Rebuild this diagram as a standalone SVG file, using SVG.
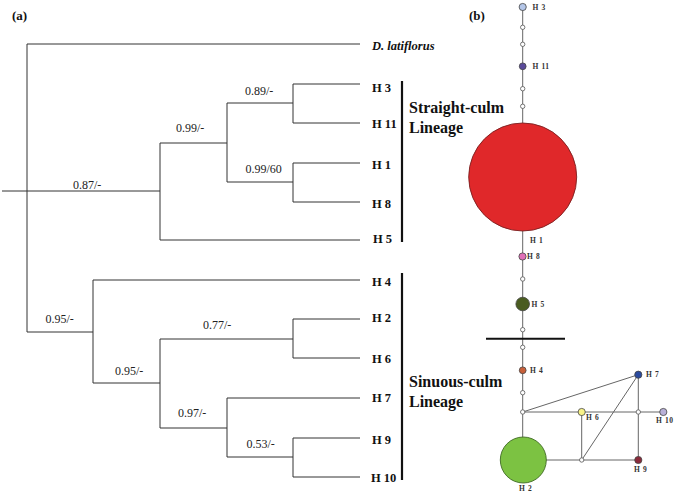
<svg xmlns="http://www.w3.org/2000/svg" width="675" height="494" viewBox="0 0 675 494">
<style>
.tl{fill:none;stroke:#333;stroke-width:1}
.bar{stroke:#111;stroke-width:2.2}
.nl{fill:none;stroke:#666;stroke-width:1}
.sup{font-family:"Liberation Serif",serif;font-size:12px;fill:#222}
.tax{font-family:"Liberation Serif",serif;font-size:12.5px;font-weight:bold;fill:#111}
.lin{font-family:"Liberation Serif",serif;font-size:16px;font-weight:bold;fill:#111}
.pan{font-family:"Liberation Serif",serif;font-size:13px;font-weight:bold;fill:#111}
.hl{font-family:"Liberation Serif",serif;font-size:7.5px;font-weight:bold;fill:#333;letter-spacing:0.6px}
.w{fill:#fff;stroke:#555;stroke-width:0.8}
.c{stroke:#444;stroke-width:0.8}
</style>
<rect width="675" height="494" fill="#fff"/>
<text class="pan" x="12" y="20">(a)</text>
<text class="pan" x="469" y="20">(b)</text>
<g id="tree-connectors">
<path class="tl" d="M2,191H27M27,44V332M27,44H360M27,191H160M160,143V240M160,240H360M160,143H227M227,103V182M227,103H293M293,84V123M293,84H360M293,123H360M227,182H293M293,163V202M293,163H360M293,202H360M27,332H93M93,280V383M93,280H360M93,383H160M160,339V428M160,339H293M293,319V358M293,319H360M293,358H360M160,428H227M227,398V457M227,398H360M227,457H293M293,438V477M293,438H360M293,477H360"/>
<text class="sup" x="245" y="95">0.89/-</text>
<text class="sup" x="176" y="132">0.99/-</text>
<text class="sup" x="245.5" y="173">0.99/60</text>
<text class="sup" x="73" y="189">0.87/-</text>
<text class="sup" x="45.5" y="323">0.95/-</text>
<text class="sup" x="203" y="329">0.77/-</text>
<text class="sup" x="115" y="375">0.95/-</text>
<text class="sup" x="178" y="417">0.97/-</text>
<text class="sup" x="246.5" y="448">0.53/-</text>
</g>
<g id="taxon-dlat"><text class="tax" x="372" y="50" font-style="italic">D. latiflorus</text></g>
<g id="taxon-h3"><text class="tax" x="372" y="91.5">H 3</text></g>
<g id="taxon-h11"><text class="tax" x="372" y="128">H 11</text></g>
<g id="taxon-h1"><text class="tax" x="372" y="169">H 1</text></g>
<g id="taxon-h8"><text class="tax" x="372" y="208">H 8</text></g>
<g id="taxon-h5"><text class="tax" x="373" y="243">H 5</text></g>
<g id="taxon-h4"><text class="tax" x="372" y="286">H 4</text></g>
<g id="taxon-h2"><text class="tax" x="372" y="322">H 2</text></g>
<g id="taxon-h6"><text class="tax" x="372" y="363">H 6</text></g>
<g id="taxon-h7"><text class="tax" x="372" y="402">H 7</text></g>
<g id="taxon-h9"><text class="tax" x="372" y="444">H 9</text></g>
<g id="taxon-h10"><text class="tax" x="371" y="482">H 10</text></g>
<g id="lineage-straight">
<line class="bar" x1="402" y1="81" x2="402" y2="242"/>
<text class="lin" x="409" y="113">Straight-culm</text>
<text class="lin" x="409" y="133">Lineage</text>
</g>
<g id="lineage-sinuous">
<line class="bar" x1="402" y1="273" x2="402" y2="480"/>
<text class="lin" x="409" y="387">Sinuous-culm</text>
<text class="lin" x="409" y="407">Lineage</text>
</g>
<g id="network-connectors">
<path class="nl" d="M522.7,7V460M522.7,412L638.3,374.7M522.7,412H663.3M581.7,412V460M581.7,460L638.3,374.7M638.3,374.7V460M522.7,460H638.3"/>
<line x1="486" y1="338.7" x2="565" y2="338.7" stroke="#111" stroke-width="2"/>
<g id="median-vectors">
<circle class="w" cx="522.7" cy="27.3" r="2.2"/>
<circle class="w" cx="522.7" cy="44.3" r="2.2"/>
<circle class="w" cx="522.7" cy="88.7" r="2.2"/>
<circle class="w" cx="522.7" cy="106.3" r="2.2"/>
<circle class="w" cx="522.7" cy="279" r="2.2"/>
<circle class="w" cx="522.7" cy="329.7" r="2.2"/>
<circle class="w" cx="522.7" cy="347.3" r="2.2"/>
<circle class="w" cx="522.7" cy="392.7" r="2.2"/>
<circle class="w" cx="522.7" cy="412" r="2.2"/>
<circle class="w" cx="638.3" cy="412" r="2.2"/>
<circle class="w" cx="581.7" cy="460" r="2.2"/>
</g>
</g>
<g id="hap-h3"><circle class="c" cx="522.7" cy="7" r="3.6" fill="#b4c6e8"/><text class="hl" x="532.5" y="9.5">H 3</text></g>
<g id="hap-h11"><circle class="c" cx="522.7" cy="66.3" r="3.4" fill="#5a4a9a"/><text class="hl" x="532.5" y="69">H 11</text></g>
<g id="hap-h1"><circle cx="522.7" cy="177" r="54" fill="#e0282a" stroke="#7a2020" stroke-width="0.9"/><text class="hl" x="530" y="242.5">H 1</text></g>
<g id="hap-h8"><circle class="c" cx="522.5" cy="256.5" r="3.6" fill="#e070b8"/><text class="hl" x="527" y="259">H 8</text></g>
<g id="hap-h5"><circle class="c" cx="522.7" cy="304" r="6.8" fill="#4a5c20"/><text class="hl" x="531.5" y="306.5">H 5</text></g>
<g id="hap-h4"><circle class="c" cx="522.7" cy="370.3" r="3.4" fill="#c8603a"/><text class="hl" x="530" y="373">H 4</text></g>
<g id="hap-h7"><circle class="c" cx="638.3" cy="374.7" r="3.6" fill="#2a4a9e"/><text class="hl" x="646" y="377">H 7</text></g>
<g id="hap-h6"><circle class="c" cx="581.7" cy="412" r="3.6" fill="#f8f288"/><text class="hl" x="586" y="420">H 6</text></g>
<g id="hap-h10"><circle class="c" cx="663.3" cy="412" r="3.6" fill="#b8b0d8"/><text class="hl" x="656" y="423">H 10</text></g>
<g id="hap-h9"><circle class="c" cx="638.3" cy="460" r="3.6" fill="#8a2a3a"/><text class="hl" x="634" y="471.5">H 9</text></g>
<g id="hap-h2"><circle cx="523.3" cy="460" r="23" fill="#7cc242" stroke="#3e6a22" stroke-width="0.9"/><text class="hl" x="519" y="491">H 2</text></g>
</svg>
